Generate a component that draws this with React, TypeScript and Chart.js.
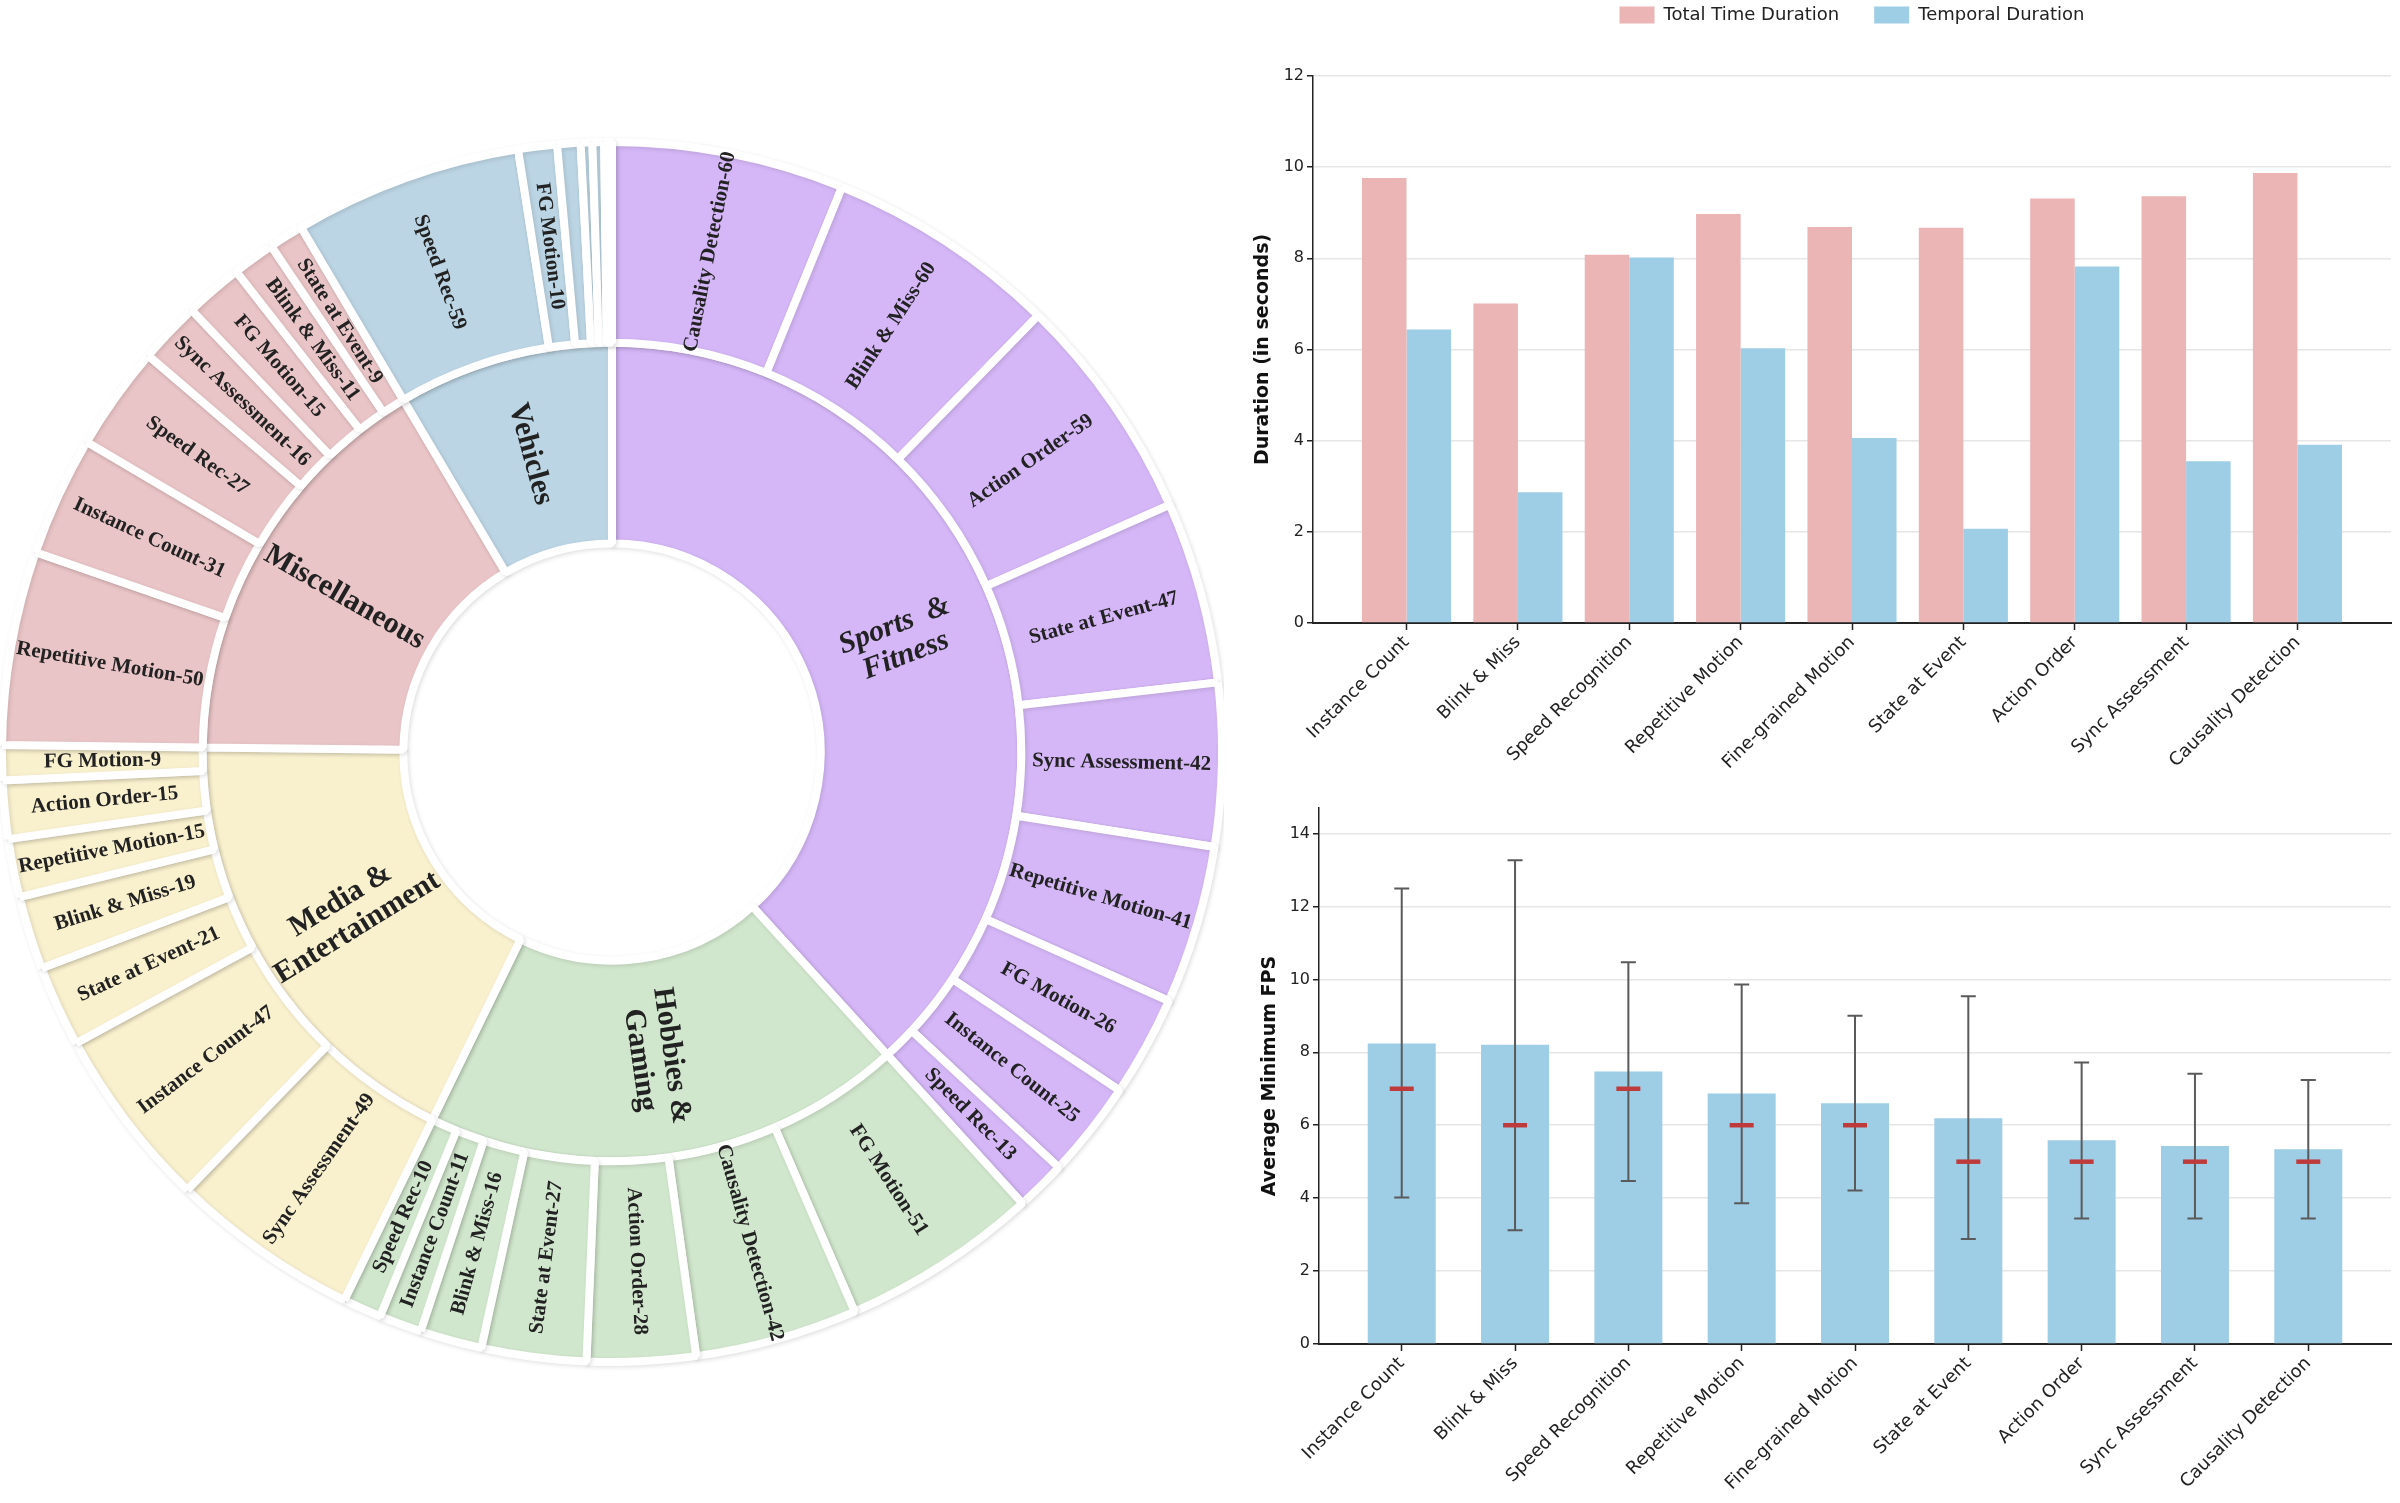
import React, { useEffect, useRef } from 'react';
import { Chart, registerables } from 'chart.js';

Chart.register(...registerables);
Chart.defaults.font.family = '"DejaVu Sans", sans-serif';

// ---------------- Sunburst data ----------------
const categories = ['Sports & Fitness', 'Hobbies & Gaming', 'Media & Entertainment', 'Miscellaneous', 'Vehicles'];
const categoryLabelLines = [['Sports  &', 'Fitness'], ['Hobbies &', 'Gaming'], ['Media &', 'Entertainment'], ['Miscellaneous'], ['Vehicles']];
const categoryColors = ['#D5B7F7', '#D1E7CD', '#F9F0CE', '#EAC5C7', '#BCD5E4'];

const sportsTasks = ['Causality Detection', 'Blink & Miss', 'Action Order', 'State at Event', 'Sync Assessment', 'Repetitive Motion', 'FG Motion', 'Instance Count', 'Speed Rec'];
const sportsCounts = [60, 60, 59, 47, 42, 41, 26, 25, 13];
const hobbiesTasks = ['FG Motion', 'Causality Detection', 'Action Order', 'State at Event', 'Blink & Miss', 'Instance Count', 'Speed Rec'];
const hobbiesCounts = [51, 42, 28, 27, 16, 11, 10];
const mediaTasks = ['Sync Assessment', 'Instance Count', 'State at Event', 'Blink & Miss', 'Repetitive Motion', 'Action Order', 'FG Motion'];
const mediaCounts = [49, 47, 21, 19, 15, 15, 9];
const miscTasks = ['Repetitive Motion', 'Instance Count', 'Speed Rec', 'Sync Assessment', 'FG Motion', 'Blink & Miss', 'State at Event'];
const miscCounts = [50, 31, 27, 16, 15, 11, 9];
// the last four Vehicles slices are too thin to carry a label in the reference
const vehicleTasks = ['Speed Rec', 'FG Motion', '', '', '', ''];
const vehicleCounts = [59, 10, 6, 3, 3, 2];

const groupTasks = [sportsTasks, hobbiesTasks, mediaTasks, miscTasks, vehicleTasks];
const groupCounts = [sportsCounts, hobbiesCounts, mediaCounts, miscCounts, vehicleCounts];

// ---------------- Bar chart data ----------------
const taskLabels = ['Instance Count', 'Blink & Miss', 'Speed Recognition', 'Repetitive Motion', 'Fine-grained Motion', 'State at Event', 'Action Order', 'Sync Assessment', 'Causality Detection'];
const totalDuration = [9.76, 7.01, 8.08, 8.97, 8.69, 8.67, 9.31, 9.36, 9.87];
const temporalDuration = [6.44, 2.87, 8.02, 6.03, 4.06, 2.07, 7.82, 3.55, 3.91];
const fpsMean = [8.24, 8.21, 7.47, 6.87, 6.60, 6.19, 5.59, 5.43, 5.34];
const fpsMedian = [7, 6, 7, 6, 6, 5, 5, 5, 5];
const fpsLow = [4.02, 3.12, 4.47, 3.86, 4.21, 2.88, 3.44, 3.44, 3.44];
const fpsHigh = [12.49, 13.27, 10.47, 9.86, 9.00, 9.54, 7.72, 7.41, 7.24];

const PINK = '#EBB4B5';
const BLUE = '#9ECDE6';
const TEXT = '#222222';

// ---------------- Sunburst ----------------
const outerCounts: number[] = [];
const outerTexts: string[] = [];
const outerColors: string[] = [];
groupCounts.forEach((counts, g) => {
  counts.forEach((c, i) => {
    outerCounts.push(c);
    const name = groupTasks[g][i];
    outerTexts.push(name ? `${name}-${c}` : '');
    outerColors.push(categoryColors[g]);
  });
});
const innerCounts = groupCounts.map((counts) => counts.reduce((a, b) => a + b, 0));

const shadowPlugin = {
  id: 'arcShadow',
  beforeDatasetsDraw(chart: any) {
    const ctx = chart.ctx;
    ctx.save();
    ctx.shadowColor = 'rgba(0,0,0,0.12)';
    ctx.shadowBlur = 4;
    ctx.shadowOffsetX = 1.5;
    ctx.shadowOffsetY = 1.5;
  },
  afterDatasetsDraw(chart: any) {
    chart.ctx.restore();
  },
};

const sunburstLabels = {
  id: 'sunburstLabels',
  afterDatasetsDraw(chart: any) {
    const ctx = chart.ctx;
    chart.data.datasets.forEach((ds: any, di: number) => {
      const meta = chart.getDatasetMeta(di);
      meta.data.forEach((arc: any, i: number) => {
        const lines: string[] = ds.labelLines[i];
        if (!lines || !lines.length || !lines[0]) return;
        const p = arc.getProps(['x', 'y', 'startAngle', 'endAngle', 'innerRadius', 'outerRadius'], true);
        const mid = (p.startAngle + p.endAngle) / 2;
        const r = (p.innerRadius + p.outerRadius) / 2;
        const cx = p.x + r * Math.cos(mid);
        const cy = p.y + r * Math.sin(mid);
        const rot = Math.cos(mid) >= 0 ? mid : mid + Math.PI;
        ctx.save();
        ctx.translate(cx, cy);
        ctx.rotate(rot);
        ctx.fillStyle = TEXT;
        ctx.textAlign = 'center';
        ctx.textBaseline = 'middle';
        ctx.font = ds.labelFont(i);
        const lh = ds.lineHeight;
        lines.forEach((t, k) => {
          ctx.fillText(t, 0, (k - (lines.length - 1) / 2) * lh);
        });
        ctx.restore();
      });
    });
  },
};

function sunburstConfig(): any {
  return {
    type: 'doughnut',
    data: {
      labels: outerTexts,
      datasets: [
        {
          data: outerCounts,
          backgroundColor: outerColors,
          borderColor: '#ffffff',
          borderWidth: 8,
          labelLines: outerTexts.map((t) => [t]),
          labelFont: () => 'bold 21px "Liberation Serif", "Times New Roman", serif',
          lineHeight: 22,
        },
        {
          data: innerCounts,
          backgroundColor: categoryColors,
          borderColor: '#ffffff',
          borderWidth: 8,
          labelLines: categoryLabelLines,
          labelFont: (i: number) =>
            (i === 0 ? 'italic ' : '') + 'bold 30px "Liberation Serif", "Times New Roman", serif',
          lineHeight: 32,
        },
      ],
    },
    options: {
      responsive: false,
      animation: false,
      events: [],
      radius: 610,
      cutout: '34.2%',
      layout: { padding: 0 },
      plugins: { legend: { display: false }, tooltip: { enabled: false } },
    },
    plugins: [shadowPlugin, sunburstLabels],
  };
}

// ---------------- Bar charts ----------------
const tickFont = { family: '"DejaVu Sans", sans-serif', size: 16 };
const xTickFont = { family: '"DejaVu Sans", sans-serif', size: 18 };
const titleFont = { family: '"DejaVu Sans", sans-serif', size: 19, weight: 'bold' as const };

function xAxis(min: number, max: number, height: number): any {
  return {
    type: 'linear',
    min,
    max,
    offset: false,
    afterBuildTicks: (s: any) => {
      s.ticks = taskLabels.map((_, i) => ({ value: i }));
    },
    afterFit: (s: any) => {
      s.height = height;
    },
    ticks: {
      autoSkip: false,
      minRotation: 45,
      maxRotation: 45,
      font: xTickFont,
      color: TEXT,
      padding: 2,
      callback: (v: number) => taskLabels[Math.round(v)],
    },
    grid: { offset: false, drawOnChartArea: false, drawTicks: true, tickLength: 7, tickColor: TEXT, tickWidth: 1.5 },
    border: { display: true, color: TEXT, width: 2 },
  };
}

function yAxis(max: number, title: string, width: number, titlePad: number): any {
  return {
    min: 0,
    max,
    afterFit: (s: any) => {
      s.width = width;
    },
    ticks: { stepSize: 2, includeBounds: false, font: tickFont, color: TEXT, padding: 3 },
    grid: { color: '#E6E6E6', lineWidth: 1.5, tickColor: TEXT, tickLength: 6, tickWidth: 1.5 },
    border: { display: true, color: TEXT, width: 1.5 },
    title: { display: true, text: title, font: titleFont, color: '#111', padding: { top: titlePad, bottom: 0 } },
  };
}

function topConfig(): any {
  return {
    type: 'bar',
    data: {
      datasets: [
        {
          label: 'Total Time Duration',
          data: totalDuration.map((v, i) => ({ x: i, y: v })),
          backgroundColor: PINK,
          categoryPercentage: 0.8,
          barPercentage: 1.0,
        },
        {
          label: 'Temporal Duration',
          data: temporalDuration.map((v, i) => ({ x: i, y: v })),
          backgroundColor: BLUE,
          categoryPercentage: 0.8,
          barPercentage: 1.0,
        },
      ],
    },
    options: {
      responsive: false,
      animation: false,
      events: [],
      layout: { padding: { top: -29, right: 9, left: 0, bottom: 0 } },
      scales: {
        x: xAxis(-0.84, 8.84, 157),
        y: yAxis(12, 'Duration (in seconds)', 83, 22),
      },
      plugins: {
        tooltip: { enabled: false },
        legend: {
          display: true,
          position: 'top',
          fullSize: false,
          labels: {
            boxWidth: 35,
            boxHeight: 17,
            padding: 35,
            color: TEXT,
            font: { family: '"DejaVu Sans", sans-serif', size: 18 },
          },
        },
        subtitle: {
          display: true,
          text: '',
          position: 'top',
          fullSize: false,
          weight: 500,
          font: { size: 10 },
          padding: { top: 0, bottom: 30 },
        },
      },
    },
  };
}

const errorBarsPlugin = {
  id: 'errorBars',
  afterDatasetsDraw(chart: any) {
    const { ctx, scales } = chart;
    const x = scales.x;
    const y = scales.y;
    ctx.save();
    fpsLow.forEach((lo, i) => {
      const px = x.getPixelForValue(i);
      const yl = y.getPixelForValue(lo);
      const yh = y.getPixelForValue(fpsHigh[i]);
      ctx.strokeStyle = '#5A5A5A';
      ctx.lineWidth = 2;
      ctx.beginPath();
      ctx.moveTo(px, yl);
      ctx.lineTo(px, yh);
      ctx.moveTo(px - 7.5, yl);
      ctx.lineTo(px + 7.5, yl);
      ctx.moveTo(px - 7.5, yh);
      ctx.lineTo(px + 7.5, yh);
      ctx.stroke();
      const ym = y.getPixelForValue(fpsMedian[i]);
      ctx.strokeStyle = '#BF3B3B';
      ctx.lineWidth = 4.5;
      ctx.beginPath();
      ctx.moveTo(px - 12, ym);
      ctx.lineTo(px + 12, ym);
      ctx.stroke();
    });
    ctx.restore();
  },
};

function bottomConfig(): any {
  return {
    type: 'bar',
    data: {
      datasets: [
        {
          label: 'Average Minimum FPS',
          data: fpsMean.map((v, i) => ({ x: i, y: v })),
          backgroundColor: BLUE,
          categoryPercentage: 0.6,
          barPercentage: 1.0,
        },
      ],
    },
    options: {
      responsive: false,
      animation: false,
      events: [],
      layout: { padding: { top: 18, right: 9, left: 0, bottom: 0 } },
      scales: {
        x: xAxis(-0.73, 8.73, 159),
        y: yAxis(14.7, 'Average Minimum FPS', 89, 29),
      },
      plugins: { legend: { display: false }, tooltip: { enabled: false } },
    },
    plugins: [errorBarsPlugin],
  };
}

export default function App() {
  const sunRef = useRef<HTMLCanvasElement>(null);
  const topRef = useRef<HTMLCanvasElement>(null);
  const botRef = useRef<HTMLCanvasElement>(null);

  useEffect(() => {
    const charts = [
      new Chart(sunRef.current as HTMLCanvasElement, sunburstConfig()),
      new Chart(topRef.current as HTMLCanvasElement, topConfig()),
      new Chart(botRef.current as HTMLCanvasElement, bottomConfig()),
    ];
    return () => charts.forEach((c) => c.destroy());
  }, []);

  return (
    <div style={{ position: 'absolute', left: 0, top: 0, width: 2400, height: 1503, background: '#ffffff', overflow: 'hidden' }}>
      <canvas ref={sunRef} width={1224} height={1504} style={{ position: 'absolute', left: 0, top: 0, width: 1224, height: 1504 }} />
      <canvas ref={topRef} width={1170} height={780} style={{ position: 'absolute', left: 1230, top: 0, width: 1170, height: 780 }} />
      <canvas ref={botRef} width={1170} height={713} style={{ position: 'absolute', left: 1230, top: 790, width: 1170, height: 713 }} />
    </div>
  );
}
